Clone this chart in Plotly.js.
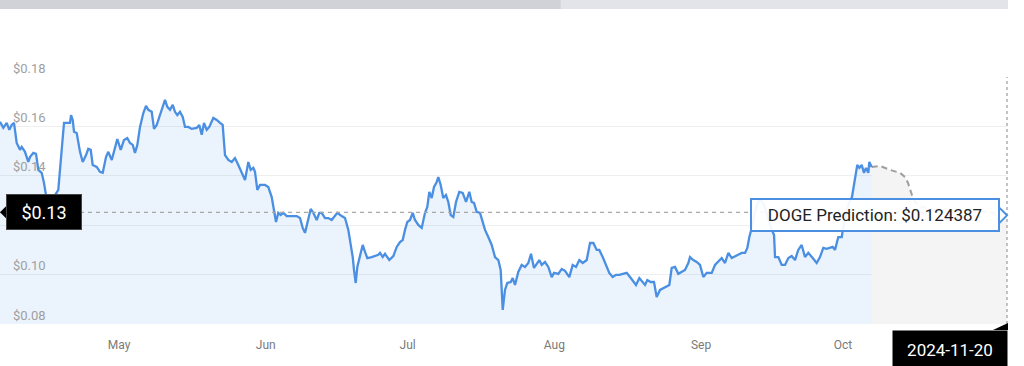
<!DOCTYPE html>
<html>
<head>
<meta charset="utf-8">
<script src="https://cdn.plot.ly/plotly-3.0.1.min.js"></script>
<style>html,body{margin:0;padding:0;background:#fff;}#chart{width:1024px;height:366px;}</style>
</head>
<body>
<div id="chart"></div>
<script>
// Days relative to 2024-05-01 (fractional) and DOGE price in USD
const actualDays = [-25.15,-24.45,-23.73,-23.18,-22.68,-22.19,-21.62,-20.92,-20.56,-19.87,-19.17,-18.81,-18.11,-17.54,-17.05,-16.34,-15.85,-15.43,-14.79,-14.16,-13.53,-12.83,-12.11,-11.62,-11.05,-10.36,-10.14,-9.78,-9.51,-8.94,-8.24,-7.67,-6.97,-6.49,-5.98,-5.56,-4.71,-4.02,-3.44,-2.75,-2.26,-1.54,-0.85,-0.36,0.36,1.06,1.75,2.32,2.90,3.38,3.87,4.44,5.14,5.71,6.19,6.91,7.40,7.97,8.52,9.24,9.72,10.21,10.78,11.35,11.83,12.32,12.89,13.46,13.95,14.65,15.36,16.42,16.97,17.48,17.96,18.53,19.08,19.93,20.65,21.35,21.91,22.40,23.10,23.82,24.51,25.21,25.93,26.63,27.33,27.83,28.38,28.74,29.23,29.80,30.85,31.55,32.27,32.76,33.18,33.66,34.17,34.72,35.44,36.50,37.55,38.25,38.82,39.31,39.79,40.51,41.06,41.78,42.33,42.84,43.54,44.23,44.95,45.65,46.13,47.06,47.76,48.46,48.96,49.39,49.66,50.02,50.36,50.93,51.50,51.99,52.47,53.40,54.31,54.80,55.16,55.73,56.21,57.12,57.97,58.69,59.38,59.95,60.44,60.93,61.50,62.07,62.55,63.25,63.97,64.67,65.15,65.58,66.08,66.57,67.14,67.48,67.98,68.53,69.10,69.59,70.10,70.65,71.22,71.91,72.63,73.33,74.03,74.53,75.02,75.59,76.29,76.86,77.35,78.04,78.76,79.46,80.16,80.66,81.09,81.57,82.06,82.78,83.20,83.69,84.38,85.10,85.80,86.50,87.07,87.70,88.40,88.82,89.33,90.03,90.73,91.44,91.93,92.84,93.56,94.25,95.16,95.88,96.58,97.28,98.00,98.84,99.54,100.24,100.95,101.50,102.22,102.92,103.61,104.33,105.03,105.73,106.45,107.29,107.99,108.69,109.26,109.96,110.67,111.16,111.65,112.36,113.06,113.63,114.33,115.39,116.30,116.80,117.50,118.20,118.91,119.61,120.31,120.67,121.37,122.08,122.78,123.48,124.20,125.26,125.95,126.65,127.37,128.07,128.77,129.49,130.18,130.88,131.60,132.30,132.78,133.21,133.71,134.41,135.04,135.68,136.31,137.16,137.79,138.43,138.64,139.34,140.05,140.75,141.45,142.16,142.86,143.55,144.27,144.97,145.67,146.60,147.44,148.14,148.84,149.55,150.25,150.82,151.31,152.01,152.73,153.06,153.63,154.27,154.90,155.54,156.02,156.45,156.95,157.44,157.86,158.35,158.56,159.07];
const actualPrices = [0.1619,0.1594,0.1614,0.1586,0.1606,0.1614,0.1533,0.1505,0.1517,0.1497,0.1456,0.1476,0.1493,0.1489,0.1424,0.1412,0.1371,0.1322,0.1270,0.1254,0.1322,0.1343,0.1505,0.1614,0.1614,0.1614,0.1646,0.1626,0.1578,0.1573,0.1497,0.1456,0.1484,0.1509,0.1505,0.1444,0.1436,0.1416,0.1412,0.1476,0.1497,0.1464,0.1513,0.1549,0.1505,0.1545,0.1553,0.1533,0.1525,0.1493,0.1525,0.1598,0.1654,0.1683,0.1667,0.1659,0.1590,0.1606,0.1638,0.1675,0.1707,0.1679,0.1667,0.1687,0.1659,0.1646,0.1659,0.1638,0.1598,0.1598,0.1590,0.1594,0.1606,0.1566,0.1614,0.1586,0.1598,0.1634,0.1626,0.1614,0.1606,0.1484,0.1464,0.1456,0.1472,0.1444,0.1416,0.1383,0.1456,0.1424,0.1432,0.1416,0.1343,0.1363,0.1363,0.1355,0.1314,0.1262,0.1213,0.1250,0.1241,0.1250,0.1237,0.1237,0.1237,0.1229,0.1189,0.1169,0.1213,0.1266,0.1250,0.1221,0.1250,0.1250,0.1229,0.1229,0.1221,0.1237,0.1250,0.1237,0.1229,0.1181,0.1128,0.1071,0.1019,0.0966,0.1031,0.1075,0.1120,0.1092,0.1067,0.1071,0.1075,0.1080,0.1088,0.1071,0.1084,0.1059,0.1075,0.1112,0.1132,0.1140,0.1181,0.1213,0.1221,0.1250,0.1221,0.1201,0.1189,0.1250,0.1274,0.1335,0.1310,0.1355,0.1375,0.1395,0.1363,0.1310,0.1322,0.1294,0.1241,0.1233,0.1294,0.1335,0.1331,0.1294,0.1335,0.1294,0.1290,0.1254,0.1250,0.1213,0.1181,0.1152,0.1120,0.1071,0.1059,0.1019,0.0857,0.0938,0.0966,0.0970,0.0986,0.0958,0.1011,0.1039,0.1031,0.1047,0.1084,0.1027,0.1047,0.1059,0.1039,0.1051,0.1031,0.0990,0.1007,0.1003,0.1023,0.1015,0.0990,0.1039,0.1031,0.1059,0.1047,0.1059,0.1128,0.1128,0.1100,0.1100,0.1071,0.1039,0.1007,0.0990,0.0999,0.0999,0.1003,0.1007,0.0990,0.0970,0.0958,0.0986,0.0970,0.0958,0.0978,0.0970,0.0970,0.0909,0.0938,0.0950,0.0958,0.1027,0.1031,0.1003,0.1011,0.1019,0.1047,0.1071,0.1059,0.1051,0.1039,0.0990,0.1007,0.1007,0.1039,0.1051,0.1067,0.1047,0.1088,0.1067,0.1075,0.1080,0.1088,0.1088,0.1108,0.1152,0.1189,0.1254,0.1294,0.1302,0.1282,0.1229,0.1189,0.1160,0.1071,0.1071,0.1039,0.1039,0.1067,0.1075,0.1059,0.1100,0.1120,0.1071,0.1088,0.1067,0.1047,0.1071,0.1108,0.1104,0.1108,0.1112,0.1100,0.1152,0.1152,0.1193,0.1241,0.1290,0.1314,0.1383,0.1444,0.1432,0.1444,0.1412,0.1432,0.1412,0.1456,0.1436];
const predictionDays = [159.07,160.82,162.93,165.05,166.11,166.74,167.58,168.43,169.70,172.45,177.73,183.02,187.66];
const predictionPrices = [0.1436,0.1440,0.1424,0.1412,0.1395,0.1371,0.1322,0.1290,0.1274,0.1262,0.1258,0.1254,0.1244];
const guideValue = 0.1252;
const yTicks = [0.08, 0.10, 0.12, 0.14, 0.16, 0.18];
const monthTicks = ['2024-05-01','2024-06-01','2024-07-01','2024-08-01','2024-09-01','2024-10-01'];
const xRangeDays = [-25.15, 187.66];
const priceLabel = '$0.13';
const predictionLabel = 'DOGE Prediction: $0.124387';
const dateLabel = '2024-11-20';

const base = Date.UTC(2024, 4, 1);
function toDate(d) {
  return new Date(base + d * 86400000).toISOString().slice(0, 19).replace('T', ' ');
}
const xs = actualDays.map(toDate);
const pxs = predictionDays.map(toDate);

const traces = [
  {
    x: pxs, y: predictionPrices, type: 'scatter', mode: 'lines',
    line: {color: '#9e9e9e', width: 2, dash: '6px,4px'},
    fill: 'tozeroy', fillcolor: '#f4f4f4', hoverinfo: 'skip'
  },
  {
    x: xs, y: actualPrices, type: 'scatter', mode: 'lines',
    line: {color: '#4a8fe2', width: 2.3},
    fill: 'tozeroy', fillcolor: 'rgba(74,143,226,0.11)', hoverinfo: 'skip'
  }
];

const layout = {
  width: 1024, height: 366,
  margin: {l: 0, r: 17, t: 77, b: 42},
  paper_bgcolor: '#ffffff', plot_bgcolor: '#ffffff',
  showlegend: false,
  font: {family: 'Roboto, sans-serif'},
  xaxis: {
    type: 'date',
    range: xRangeDays.map(toDate),
    tickvals: monthTicks, tickformat: '%b',
    showgrid: false, zeroline: false, showline: false, ticks: '',
    tickfont: {size: 12, color: '#7a7a7a'},
    ticklabelstandoff: 12,
    fixedrange: true
  },
  yaxis: {
    range: [0.08, 0.18],
    tickvals: yTicks, tickformat: '$.2f',
    showgrid: true, gridcolor: '#efefef', gridwidth: 1,
    zeroline: false, showline: false, ticks: '',
    ticklabelposition: 'inside', ticklabelshift: -9, ticklabelstandoff: 10,
    ticklabeloverflow: 'allow',
    tickfont: {size: 13, color: '#a0a0a0'},
    fixedrange: true
  },
  shapes: [
    {type: 'rect', xref: 'paper', yref: 'paper', ysizemode: 'pixel', yanchor: 1,
     x0: 0, x1: 0.557, y0: 68, y1: 77, fillcolor: '#d1d2d8', line: {width: 0}},
    {type: 'rect', xref: 'paper', yref: 'paper', ysizemode: 'pixel', yanchor: 1,
     x0: 0.557, x1: 1.001, y0: 68, y1: 77, fillcolor: '#e3e4ea', line: {width: 0}},
    {type: 'line', xref: 'paper', yref: 'y', x0: 0, x1: 1, y0: guideValue, y1: guideValue,
     line: {color: '#a8a8a8', width: 1.2, dash: '4px,4px'}},
    {type: 'line', xref: 'paper', yref: 'paper', x0: 1, x1: 1, y0: 0, y1: 1,
     line: {color: '#b0b0b0', width: 1.5, dash: 'dot'}},
    {type: 'path', xref: 'paper', yref: 'y', xsizemode: 'pixel', ysizemode: 'pixel',
     xanchor: 0, yanchor: guideValue, path: 'M 0 0 L 7 7 L 7 -7 Z',
     fillcolor: '#000000', line: {width: 0}},
    {type: 'path', xref: 'paper', yref: 'y', xsizemode: 'pixel', ysizemode: 'pixel',
     xanchor: 1, yanchor: guideValue, path: 'M -8 5 L 0 -3 L -8 -11 Z',
     fillcolor: '#ffffff', line: {color: '#4a8fe2', width: 2}},
    {type: 'path', xref: 'paper', yref: 'paper', xsizemode: 'pixel', ysizemode: 'pixel',
     xanchor: 1, yanchor: 0, path: 'M -14 -6 L 1 1 L 1 -6 Z',
     fillcolor: '#000000', line: {width: 0}}
  ],
  annotations: [
    {xref: 'paper', yref: 'y', x: 0, y: guideValue, xanchor: 'left', yanchor: 'middle',
     xshift: 6, text: priceLabel, showarrow: false, width: 72, height: 32,
     bgcolor: '#000000', bordercolor: '#444', borderwidth: 1,
     font: {family: 'Roboto, sans-serif', size: 18, color: '#ffffff'}},
    {xref: 'paper', yref: 'y', x: 1, y: guideValue, xanchor: 'right', yanchor: 'middle',
     xshift: -7, yshift: -3, text: predictionLabel, showarrow: false, width: 244, height: 28,
     bgcolor: 'rgba(255,255,255,0.93)', bordercolor: '#4a8fe2', borderwidth: 2,
     font: {family: 'Roboto, sans-serif', size: 17, color: '#222222'}},
    {xref: 'paper', yref: 'paper', x: 1, y: 0, xanchor: 'right', yanchor: 'top',
     xshift: 1, yshift: -6, text: dateLabel, showarrow: false, width: 112, height: 36,
     bgcolor: '#000000',
     font: {family: 'Roboto, sans-serif', size: 17, color: '#ffffff'}}
  ]
};

Plotly.newPlot('chart', traces, layout, {displayModeBar: false, staticPlot: true});
</script>
</body>
</html>
